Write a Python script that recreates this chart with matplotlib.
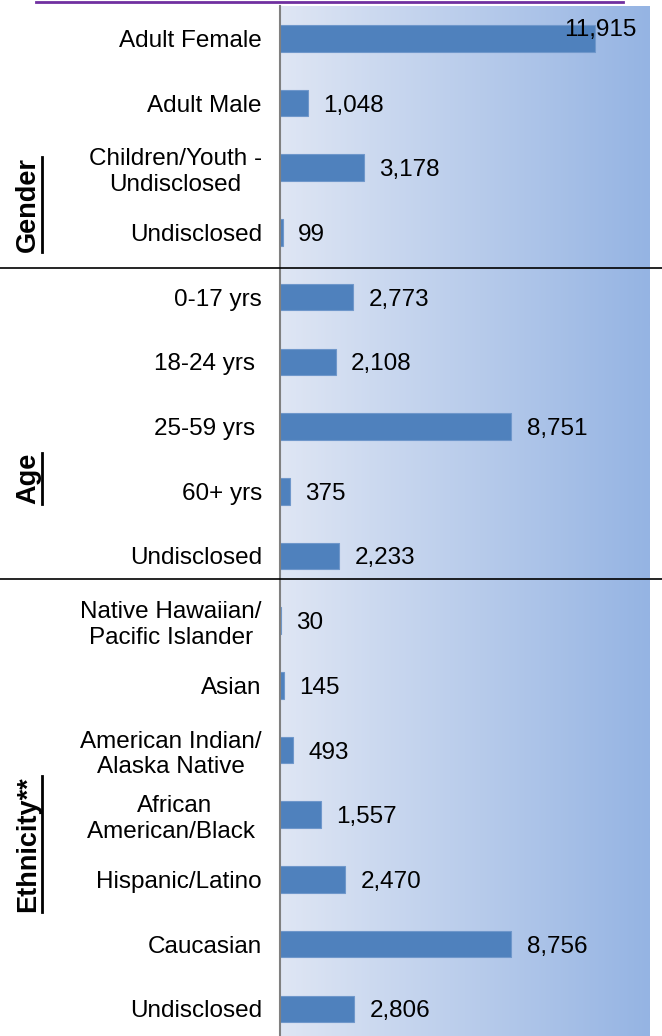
import matplotlib
matplotlib.use("Agg")
import matplotlib.pyplot as plt
import numpy as np
from matplotlib.lines import Line2D

categories = [
    "Adult Female", "Adult Male", "Children/Youth -\nUndisclosed", "Undisclosed",
    "0-17 yrs", "18-24 yrs ", "25-59 yrs ", "60+ yrs", "Undisclosed",
    "Native Hawaiian/\nPacific Islander", "Asian", "American Indian/\nAlaska Native",
    "African\nAmerican/Black ", "Hispanic/Latino", "Caucasian", "Undisclosed",
]
values = [11915, 1048, 3178, 99,
          2773, 2108, 8751, 375, 2233,
          30, 145, 493, 1557, 2470, 8756, 2806]
value_labels = ["11,915", "1,048", "3,178", "99",
                "2,773", "2,108", "8,751", "375", "2,233",
                "30", "145", "493", "1,557", "2,470", "8,756", "2,806"]
groups = ["Gender", "Age", "Ethnicity**"]

plt.rcParams['font.family'] = ['Liberation Sans', 'DejaVu Sans']

W, H = 662, 1036
fig = plt.figure(figsize=(W / 100, H / 100), dpi=100)
ax = fig.add_axes([280 / W, 0, 370 / W, 1 - 6 / H])

xmax = 14000
ax.set_xlim(0, xmax)
ax.set_ylim(15.42, -0.5)

# gradient background
grad = np.linspace(0, 1, 256).reshape(1, -1)
c0 = np.array([223, 230, 244]) / 255
c1 = np.array([149, 180, 227]) / 255
img = c0[None, None, :] * (1 - grad[..., None]) + c1[None, None, :] * grad[..., None]
ax.imshow(img, extent=[0, 1, 0, 1], transform=ax.transAxes, aspect='auto', zorder=0)

y = np.arange(len(values))
ax.barh(y, values, height=0.41, color="#4f81bd", edgecolor="#6f97cb", linewidth=0.8, zorder=2)

fs = 17.5
for yi, v, lab in zip(y, values, value_labels):
    if v > 0.8 * xmax:
        ax.annotate(lab, xy=(xmax, yi), xytext=(-10, 8), textcoords='offset points',
                    ha='right', va='center_baseline', fontsize=fs, zorder=3)
    else:
        ax.annotate(lab, xy=(v, yi), xytext=(11, 0), textcoords='offset points',
                    ha='left', va='center_baseline', fontsize=fs, zorder=3)

ax.set_yticks(y)
ax.set_yticklabels(categories, fontsize=fs, multialignment='center')
ax.tick_params(axis='y', length=0, pad=13)
ax.tick_params(axis='x', bottom=False, labelbottom=False)
for s in ['top', 'right', 'bottom']:
    ax.spines[s].set_visible(False)
ax.spines['left'].set_color('#808080')
ax.spines['left'].set_linewidth(1.5)
ax.spines['left'].set_zorder(4)

# separators between groups (full width)
for sep in [3.55, 8.35]:
    yf = ax.transData.transform((0, sep))[1]
    yf = fig.transFigure.inverted().transform((0, yf))[1]
    fig.add_artist(Line2D([0, 1], [yf, yf], color='black', linewidth=1.2))

# group labels
centers = [2.57, 6.8, 12.45]
for g, yc in zip(groups, centers):
    yd = ax.transData.transform((0, yc))[1]
    yfig = fig.transFigure.inverted().transform((0, yd))[1]
    t = fig.text(28 / W, yfig, g, rotation=90, fontsize=19.5, fontweight='bold',
                 ha='center', va='center')
    fig.canvas.draw()
    bb = t.get_window_extent()
    x_line = (bb.x1 + 1) / W
    fig.add_artist(Line2D([x_line, x_line], [bb.y0 / H, bb.y1 / H], color='black', linewidth=2))

# purple top line
fig.add_artist(Line2D([36 / W, 623 / W], [1 - 1.5 / H, 1 - 1.5 / H], color='#7030a0', linewidth=2))

fig.savefig("out.png", dpi=100)
